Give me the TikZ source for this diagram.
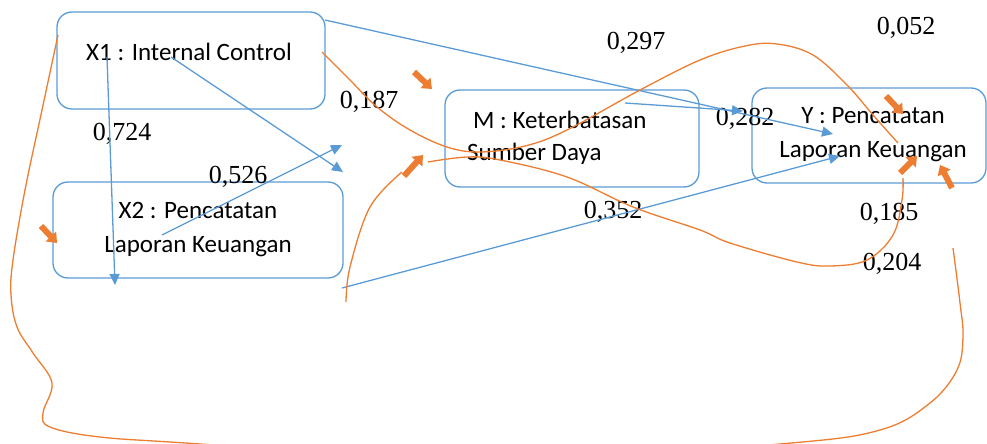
\documentclass[tikz,border=0pt]{standalone}
\usepackage{fontspec}
\setmainfont{Liberation Serif}
\newfontfamily\boxfont{Carlito}
\usetikzlibrary{arrows.meta}
\definecolor{pathBlue}{HTML}{5B9BD5}
\definecolor{pathOrange}{HTML}{ED7D31}
\tikzset{
  varBox/.style={draw=pathBlue, line width=1.3pt, rounded corners=15pt, inner sep=0pt},
  varText/.style={font=\boxfont\fontsize{25}{33}\selectfont, inner sep=0pt, anchor=base},
  coefText/.style={font=\fontsize{26}{30}\selectfont, inner sep=0pt, anchor=base},
  bluePath/.style={draw=pathBlue, line width=1.3pt, -{Triangle[length=11pt,width=10pt]}},
  orangePath/.style={draw=pathOrange, line width=1.3pt},
  orangeTip/.style={draw=pathOrange, line width=6pt, -{Triangle[length=9pt,width=14pt]}},
}
\begin{document}
\begin{tikzpicture}[x=1pt, y=-1pt, line cap=butt, line join=round]
\clip (0,0) rectangle (987,444);
% Variable boxes
\node[varBox, minimum width=268pt, minimum height=97pt] (x1) at (191,60.5) {};
\node[varBox, minimum width=290pt, minimum height=96pt] (x2) at (198,230) {};
\node[varBox, minimum width=254pt, minimum height=97pt] (m) at (572,138.5) {};
\node[varBox, minimum width=234pt, minimum height=95pt] (y) at (869,135.5) {};
% Box texts
\node[varText] (x1a) at (189,60) {X1 : Internal Control};
\node[varText] (x2a) at (198,218) {X2 : Pencatatan};
\node[varText] (x2b) at (198,252) {Laporan Keuangan};
\node[varText, anchor=base west] (ma) at (473,128) {M : Keterbatasan};
\node[varText, anchor=base west] (mb) at (467,160) {Sumber Daya};
\node[varText] (ya) at (873,123) {Y : Pencatatan};
\node[varText] (yb) at (873,157) {Laporan Keuangan};
% Coefficients
\node[coefText] (c724) at (122,140) {0,724};
\node[coefText] (c526) at (238,183) {0,526};
\node[coefText] (c187) at (369,108) {0,187};
\node[coefText] (c297) at (636,50) {0,297};
\node[coefText] (c052) at (906,35) {0,052};
\node[coefText] (c282) at (745,125) {0,282};
\node[coefText] (c352) at (613,218) {0,352};
\node[coefText] (c185) at (889,220) {0,185};
\node[coefText] (c204) at (892,270) {0,204};
% Blue paths
\coordinate (b1s) at (325,20);  \coordinate (b1e) at (833,134);
\coordinate (b2s) at (171,57);  \coordinate (b2e) at (343,172);
\coordinate (b3s) at (162,235); \coordinate (b3e) at (342,145);
\coordinate (b4s) at (107,57);  \coordinate (b4e) at (115,285);
\coordinate (b5s) at (342,288); \coordinate (b5e) at (840,156);
\coordinate (b6s) at (625,103); \coordinate (b6e) at (743,111);
\draw[bluePath] (b1s) -- (b1e);
\draw[bluePath] (b2s) -- (b2e);
\draw[bluePath] (b3s) -- (b3e);
\draw[bluePath] (b4s) -- (b4e);
\draw[bluePath] (b5s) -- (b5e);
\draw[bluePath] (b6s) -- (b6e);
% Orange paths
\draw[orangePath] plot[smooth, tension=0.6] coordinates {(322,52) (350,80) (377,107) (410,130) (447,147) (480,152) (525,146) (567,130) (640,90) (700,60) (745,46) (777,44) (813,55) (847,85) (873,115) (898,143)};
\draw[orangePath] plot[smooth, tension=0.6] coordinates {(428,162) (467,157) (500,160) (567,177) (633,207) (700,230) (730,243) (797,262) (830,266) (867,260) (893,235) (902,200) (903,178)};
\draw[orangePath] plot[smooth, tension=0.6] coordinates {(346,302) (350,267) (370,207) (402,172)};
\draw[orangePath] plot[smooth, tension=0.6] coordinates {(58,35) (42,110) (25,190) (13,260) (11,295) (17,327) (33,353) (52,383) (43,413) (50,427) (100,437) (200,444) (490,464) (780,444) (880,430) (930,403) (957,370) (963,337) (960,303) (953,248)};
% Orange block arrows
\draw[orangeTip] (41,226) -- (57,243);
\draw[orangeTip] (414,72) -- (432,89);
\draw[orangeTip] (404,176) -- (423,155);
\draw[orangeTip] (886,96) -- (903,114);
\draw[orangeTip] (900,173) -- (917,156);
\draw[orangeTip] (952,188) -- (940,165);
\end{tikzpicture}
\end{document}
